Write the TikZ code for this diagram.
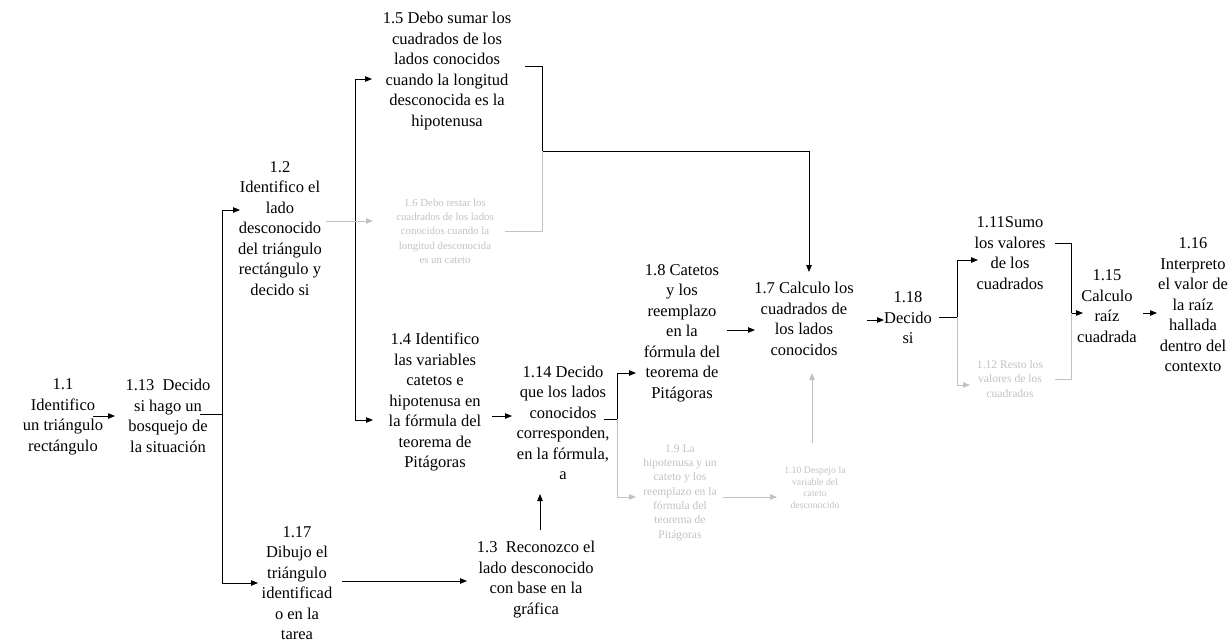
\documentclass[tikz,border=0pt]{standalone}
\usepackage{fontspec}
\setmainfont{Liberation Serif}
\usetikzlibrary{arrows.meta,calc}
\definecolor{faint}{HTML}{C2C2C2}
\tikzset{
  txt/.style={align=center, inner sep=0pt, font=\fontsize{16.5}{20.5}\selectfont},
  ghost/.style={align=center, inner sep=0pt, text=faint, font=\fontsize{10.8}{14.3}\selectfont},
  ghostwide/.style={align=center, inner sep=0pt, text=faint, font=\fontsize{11.6}{14.3}\selectfont},
  ghostsmall/.style={align=center, inner sep=0pt, text=faint, font=\fontsize{9.8}{11.7}\selectfont},
  link/.style={draw=black, line width=0.8pt},
  arr/.style={link, -{Triangle[length=7pt,width=5.5pt]}},
  glink/.style={draw=faint, line width=0.8pt},
  garr/.style={glink, -{Triangle[length=7pt,width=5.5pt]}},
}
\begin{document}
\begin{tikzpicture}[x=1pt,y=-1pt]
\useasboundingbox (0,0) rectangle (1230,641);

% ---- steps ----
\node[txt] (n11)  at (63,417)    {1.1\\Identifico\\un triángulo\\rectángulo};
\node[txt] (n113) at (168,416)   {1.13~ Decido\\si hago un\\bosquejo de\\la situación};
\node[txt] (n12)  at (280,228.5) {1.2\\Identifico el\\lado\\desconocido\\del triángulo\\rectángulo y\\decido si};
\node[txt] (n117) at (297,583)   {1.17\\Dibujo el\\triángulo\\identificad\\o en la\\tarea};
\node[txt] (n15)  at (447,71)    {1.5 Debo sumar los\\cuadrados de los\\lados conocidos\\cuando la longitud\\desconocida es la\\hipotenusa};
\node[ghost] (n16) at (445,231)  {1.6 Debo restar los\\cuadrados de los lados\\conocidos cuando la\\longitud desconocida\\es un cateto};
\node[txt] (n14)  at (435,402)   {1.4 Identifico\\las variables\\catetos e\\hipotenusa en\\la fórmula del\\teorema de\\Pitágoras};
\node[txt] (n114) at (563,423)   {1.14 Decido\\que los lados\\conocidos\\corresponden,\\en la fórmula,\\a};
\node[txt] (n13)  at (536,579.5) {1.3~ Reconozco el\\lado desconocido\\con base en la\\gráfica};
\node[txt] (n18)  at (682,333)   {1.8 Catetos\\y los\\reemplazo\\en la\\fórmula del\\teorema de\\Pitágoras};
\node[ghostwide] (n19) at (680,492.5) {1.9 La\\hipotenusa y un\\cateto y los\\reemplazo en la\\fórmula del\\teorema de\\Pitágoras};
\node[txt] (n17)  at (804,319)   {1.7 Calculo los\\cuadrados de\\los lados\\conocidos};
\node[ghostsmall] (n110) at (815,487.5) {1.10 Despejo la\\variable del\\cateto\\desconocido};
\node[txt] (n118) at (908,318)   {1.18\\Decido\\si};
\node[txt] (n111) at (1010,253)  {1.11Sumo\\los valores\\de los\\cuadrados};
\node[ghostwide] (n112) at (1010,379) {1.12 Resto los\\valores de los\\cuadrados};
\node[txt] (n115) at (1107,306)  {1.15\\Calculo\\raíz\\cuadrada};
\node[txt] (n116) at (1193,305)  {1.16\\Interpreto\\el valor de\\la raíz\\hallada\\dentro del\\contexto};

% ---- junctions ----
\coordinate (f1) at (222,414);
\coordinate (f2) at (355,221);
\coordinate (j1) at (542,151);
\coordinate (f3) at (617,419);
\coordinate (f4) at (957,317);
\coordinate (j2) at (1071,313);

% ---- connectors ----
\draw[arr] ($(n11.center)+(30,-1)$) -- ($(n113.center)+(-53,0)$);
\draw[link] ($(n113.center)+(32,-2)$) -- (f1);
\draw[arr] (f1) |- ($(n12.center)+(-40,-18.5)$);
\draw[arr] (f1) |- ($(n117.center)+(-39,0)$);

\draw[arr] (f2) |- ($(n15.center)+(-75,8)$);
\draw[arr] (f2) |- ($(n14.center)+(-62,18)$);
\draw[garr] ($(n12.center)+(46,-7.5)$) -- ($(n16.center)+(-72,-10)$);

\draw[arr] ($(n15.center)+(78,-5)$) -| (j1) -| ($(n17.center)+(5,-47)$);
\draw[glink] ($(n16.center)+(60,0)$) -| (j1);

\draw[arr] ($(n14.center)+(57,14)$) -- ($(n114.center)+(-51,-7)$);
\draw[arr] ($(n117.center)+(45,-2)$) -- ($(n13.center)+(-69,1.5)$);
\draw[arr] ($(n13.center)+(4,-49.5)$) -- ($(n114.center)+(-23,71)$);

\draw[link] ($(n114.center)+(41,-4)$) -- (f3);
\draw[arr] (f3) |- ($(n18.center)+(-46,40)$);
\draw[garr] (f3) |- ($(n19.center)+(-44,4.5)$);

\draw[arr] ($(n18.center)+(45,-3)$) -- ($(n17.center)+(-49,11)$);
\draw[garr] ($(n19.center)+(43,4.5)$) -- ($(n110.center)+(-38,9.5)$);
\draw[garr] ($(n110.center)+(-3,-44.5)$) -- ($(n17.center)+(8,54)$);

\draw[arr] ($(n17.center)+(63,1)$) -- ($(n118.center)+(-24,2)$);
\draw[link] ($(n118.center)+(31,-1)$) -- (f4);
\draw[arr] (f4) |- ($(n111.center)+(-32,7)$);
\draw[garr] (f4) |- ($(n112.center)+(-40,6)$);

\draw[arr] ($(n111.center)+(45,-10)$) -| (j2) -- ($(n115.center)+(-24,7)$);
\draw[glink] ($(n112.center)+(45,0)$) -| (j2);

\draw[arr] ($(n115.center)+(36,7)$) -- ($(n116.center)+(-36,8)$);
\end{tikzpicture}
\end{document}
